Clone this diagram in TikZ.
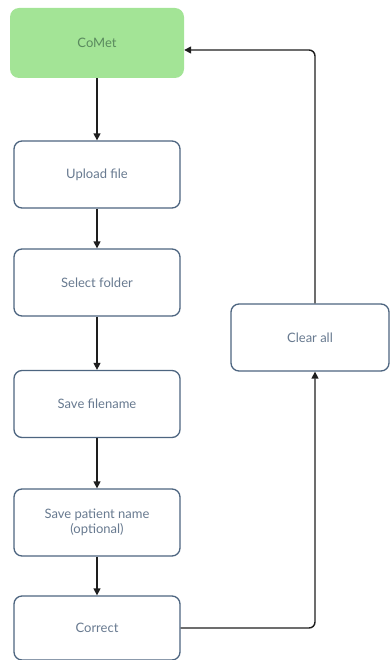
\documentclass[tikz,border=0pt]{standalone}
\usepackage{fontspec}
\setmainfont{Lato}
\usetikzlibrary{arrows.meta}
\definecolor{boxline}{HTML}{4D6580}
\definecolor{boxtext}{HTML}{687A90}
\definecolor{startfill}{HTML}{A3E496}
\definecolor{starttext}{HTML}{5A8A5E}
\definecolor{wire}{HTML}{1E1E1E}
\begin{document}
\begin{tikzpicture}[x=1pt,y=-1pt,
  stepbox/.style={draw=boxline, line width=1.3pt, rounded corners=8pt, fill=white,
    minimum width=166pt, minimum height=67pt, inner sep=0pt, align=center,
    text=boxtext, font=\fontsize{13}{15}\selectfont},
  startbox/.style={fill=startfill, rounded corners=9pt,
    minimum width=174pt, minimum height=70pt, inner sep=0pt,
    text=starttext, font=\fontsize{13}{15}\selectfont},
  flow/.style={draw=wire, line width=1.4pt, -{Triangle[length=7pt,width=7pt]}},
  loop/.style={flow, rounded corners=6pt}]
\useasboundingbox (0,0) rectangle (390,660);

% main sequence
\node[startbox] (comet) at (97,43) {CoMet};
\node[stepbox] (upload) at (97,174.5) {Upload file};
\node[stepbox] (folder) at (97,282.5) {Select folder};
\node[stepbox] (fname) at (97,404) {Save filename};
\node[stepbox] (patient) at (97,522.5) {Save patient name\\(optional)};
\node[stepbox, minimum height=64pt] (correct) at (97,628) {Correct};

% side branch
\node[stepbox, minimum width=158pt] (clear) at (310,337.5) {Clear all};

\draw[flow] (comet) -- (upload);
\draw[flow] (upload) -- (folder);
\draw[flow] (folder) -- (fname);
\draw[flow] (fname) -- (patient);
\draw[flow] (patient) -- (correct);

% loop back to the start
\coordinate (lowturn) at (315,628);
\coordinate (highturn) at (315,50);
\draw[loop] (correct.east) -- (lowturn) -- (clear.south -| lowturn);
\draw[loop] (clear.north -| highturn) -- (highturn) -- (comet.east |- highturn);
\end{tikzpicture}
\end{document}
